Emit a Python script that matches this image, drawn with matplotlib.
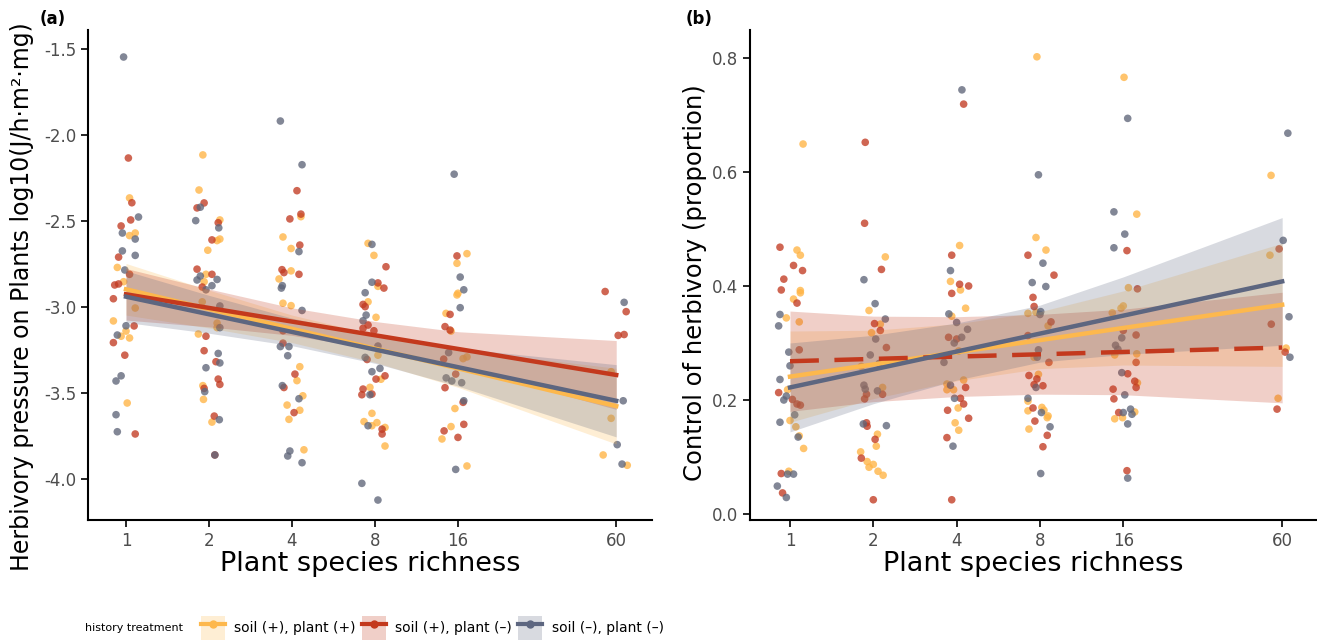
import matplotlib
matplotlib.use("Agg")
import matplotlib.pyplot as plt
import numpy as np
from matplotlib.lines import Line2D
from matplotlib.patches import Patch
from matplotlib.ticker import FormatStrFormatter

plt.rcParams['font.family'] = ['DejaVu Sans']
plt.rcParams['axes.unicode_minus'] = False

richness_ticks = [1, 2, 4, 8, 16, 60]
treatments = ["soil (+), plant (+)", "soil (+), plant (\u2013)", "soil (\u2013), plant (\u2013)"]

# ---- panel (a): herbivory pressure, jittered richness + value ----
a_yel_x = [1.03, 1.03, 1.08, 0.93, 0.98, 1.08, 0.90, 0.96, 1.03, 1.0, 1.01,
           1.90, 1.84, 2.19, 2.14, 2.19, 1.98, 1.95, 1.92, 1.89, 2.14, 2.14, 1.83, 1.90, 1.91, 2.05,
           4.31, 3.71, 3.97, 3.97, 3.59, 3.71, 3.97, 4.27, 4.17, 4.38, 3.84, 4.27, 3.90, 4.42,
           7.55, 7.93, 8.20, 7.55, 8.07, 8.20, 8.41, 7.67, 7.80, 7.30, 7.80, 8.13, 8.70, 8.70,
           17.25, 15.87, 16.0, 15.87, 14.48, 15.1, 16.7, 17.25, 15.6, 15.1, 14.0, 17.25,
           57.5, 57.5, 53.8, 65.8]
a_yel_y = [-2.366, -2.585, -2.57, -2.77, -2.853, -3.006, -3.081, -3.17, -3.18, -3.14, -3.558,
           -2.116, -2.32, -2.494, -2.614, -2.605, -2.67, -2.81, -2.853, -2.97, -3.094, -3.12, -3.157, -3.457, -3.537, -3.669,
           -2.475, -2.593, -2.66, -2.79, -2.837, -2.978, -2.992, -3.347, -3.428, -3.516, -3.57, -3.6, -3.653, -3.83,
           -2.63, -2.70, -2.88, -2.97, -3.06, -3.28, -3.42, -3.467, -3.618, -3.666, -3.69, -3.672, -3.70, -3.808,
           -2.69, -2.746, -2.92, -2.93, -3.037, -3.14, -3.30, -3.29, -3.59, -3.695, -3.767, -3.924,
           -3.376, -3.647, -3.86, -3.92]

a_red_x = [1.02, 1.05, 1.04, 0.96, 0.94, 1.03, 0.91, 0.94, 0.90, 1.07, 0.90, 0.99, 1.08,
           1.81, 1.92, 2.16, 2.05, 1.81, 2.05, 1.89, 1.95, 1.92, 2.12, 2.16, 2.19, 1.92, 2.09, 2.10,
           4.17, 4.31, 3.93, 4.27, 3.68, 3.74, 4.24, 3.71, 3.71, 4.10, 3.74, 4.07,
           8.77, 8.20, 8.62, 7.24, 7.37, 7.55, 7.24, 7.93, 7.49, 8.70, 8.07, 7.24, 7.17, 7.80, 8.49, 8.49,
           15.87, 14.98, 14.36, 14.98, 15.7, 14.36, 16.7, 16.8, 14.25, 16.0, 14.2,
           54.7, 65.2, 61.0, 64.1]
a_red_y = [-2.134, -2.394, -2.494, -2.529, -2.71, -2.81, -2.872, -2.866, -2.952, -3.11, -3.207, -3.28, -3.738,
           -2.424, -2.395, -2.51, -2.61, -2.78, -2.81, -2.884, -3.17, -3.254, -3.318, -3.419, -3.45, -3.473, -3.634, -3.86,
           -2.324, -2.46, -2.488, -2.64, -2.783, -2.80, -2.81, -3.138, -3.21, -3.39, -3.468, -3.614,
           -2.766, -2.86, -2.89, -2.985, -2.998, -3.105, -3.124, -3.138, -3.305, -3.40, -3.419, -3.477, -3.51, -3.506, -3.71, -3.738,
           -2.703, -3.043, -3.114, -3.134, -3.39, -3.469, -3.554, -3.682, -3.72, -3.758, -3.303,
           -2.91, -3.027, -3.165, -3.16]

a_gry_x = [0.98, 1.11, 0.97, 1.08, 0.97, 1.08, 0.99, 1.0, 0.93, 0.92, 0.96, 0.92, 0.93,
           1.86, 1.79, 2.17, 1.81, 1.86, 2.05, 2.14, 1.95, 2.19, 2.19, 2.16, 2.19, 1.95, 1.93, 2.18, 2.10,
           3.63, 4.35, 4.24, 3.69, 3.66, 4.35, 3.63, 3.90, 3.86, 3.69, 4.24, 3.86, 3.93, 4.35,
           7.80, 7.80, 7.37, 7.43, 7.24, 8.20, 7.37, 8.34, 7.80, 7.67, 7.55, 7.17, 8.20,
           15.5, 16.3, 16.8, 16.3, 14.8, 14.5, 15.2, 16.5, 16.8, 15.7,
           64.1, 63.6, 60.5, 63.0]
a_gry_y = [-1.547, -2.477, -2.570, -2.605, -2.674, -2.70, -2.785, -3.109, -3.163, -3.43, -3.40, -3.626, -3.725,
           -2.42, -2.498, -2.54, -2.843, -2.82, -2.876, -2.84, -2.90, -2.994, -3.12, -3.27, -3.325, -3.353, -3.492, -3.655, -3.86,
           -1.919, -2.173, -2.678, -2.876, -2.89, -3.02, -3.23, -3.23, -3.283, -3.457, -3.533, -3.866, -3.837, -3.905,
           -2.636, -2.856, -2.917, -3.047, -3.08, -3.227, -3.293, -3.357, -3.376, -3.51, -3.69, -4.025, -4.122,
           -2.228, -2.826, -2.90, -3.004, -3.265, -3.412, -3.43, -3.44, -3.545, -3.944,
           -2.973, -3.545, -3.80, -3.913]

# fitted lines (value at richness 1 and 60) and CI half-widths at the tick richness levels
a_fit = {"yel": (-2.897, -3.576), "red": (-2.926, -3.395), "gry": (-2.94, -3.545)}
a_ci = {"yel": [0.15, 0.11, 0.08, 0.08, 0.11, 0.22],
        "red": [0.15, 0.11, 0.08, 0.08, 0.10, 0.20],
        "gry": [0.15, 0.11, 0.08, 0.08, 0.11, 0.21]}

# ---- panel (b): control of herbivory ----
b_yel_x = [1.115, 1.06, 1.09, 1.09, 1.03, 1.09, 0.97, 1.08, 0.98, 1.0, 1.05, 1.08, 1.12, 0.99,
           2.21, 1.93, 2.12, 1.97, 1.81, 2.16, 2.07, 2.05, 1.80, 1.90, 1.93, 2.0, 2.08, 2.17,
           4.1, 3.8, 4.13, 4.31, 3.84, 4.07, 4.24, 3.69, 3.69, 3.90, 4.05, 3.95, 4.07,
           7.8, 7.74, 8.41, 7.24, 7.74, 8.56, 7.62, 7.9, 7.24, 8.13, 8.27, 7.24, 8.56, 8.5, 7.3,
           16.1, 17.9, 16.7, 14.6, 15.7, 16.0, 14.9, 17.9, 18.0, 17.6, 14.9, 15.9,
           54.7, 54.2, 62.0, 58.0]
b_yel_y = [0.649, 0.463, 0.454, 0.392, 0.377, 0.388, 0.344, 0.337, 0.218, 0.164, 0.153, 0.137, 0.115, 0.075,
           0.451, 0.357, 0.333, 0.318, 0.259, 0.222, 0.14, 0.119, 0.109, 0.092, 0.082, 0.087, 0.075, 0.068,
           0.471, 0.408, 0.393, 0.361, 0.347, 0.286, 0.235, 0.228, 0.218, 0.218, 0.186, 0.16, 0.147,
           0.802, 0.485, 0.463, 0.352, 0.354, 0.33, 0.275, 0.245, 0.198, 0.187, 0.182, 0.181, 0.172, 0.169, 0.149,
           0.766, 0.526, 0.397, 0.353, 0.361, 0.365, 0.279, 0.281, 0.23, 0.179, 0.167, 0.169,
           0.594, 0.454, 0.291, 0.203]

b_red_x = [0.92, 1.03, 1.11, 0.95, 0.93, 1.06, 1.08, 0.91, 1.02, 1.06, 1.09, 0.93, 0.94,
           1.87, 1.86, 2.14, 2.02, 2.12, 2.23, 2.16, 1.86, 1.89, 1.89, 1.90, 2.03, 1.81, 2.0,
           4.24, 3.84, 4.1, 4.42, 3.84, 3.74, 4.0, 4.31, 4.13, 4.24, 3.71, 4.42, 3.69, 3.84,
           7.24, 8.99, 7.55, 7.62, 8.77, 7.24, 8.62, 7.3, 7.8, 7.62, 8.2, 7.55, 7.67, 8.5, 8.2,
           16.5, 18.0, 16.0, 17.8, 17.8, 16.6, 17.6, 17.8, 14.7, 14.8, 15.4, 16.5,
           58.5, 54.8, 61.5, 57.5]
b_red_y = [0.468, 0.436, 0.427, 0.412, 0.393, 0.37, 0.288, 0.213, 0.201, 0.193, 0.191, 0.071, 0.037,
           0.652, 0.51, 0.429, 0.334, 0.322, 0.292, 0.21, 0.202, 0.21, 0.16, 0.154, 0.131, 0.098, 0.025,
           0.719, 0.454, 0.403, 0.40, 0.387, 0.31, 0.307, 0.222, 0.203, 0.193, 0.182, 0.168, 0.134, 0.025,
           0.454, 0.419, 0.38, 0.364, 0.337, 0.313, 0.266, 0.243, 0.237, 0.227, 0.225, 0.186, 0.163, 0.138, 0.118,
           0.462, 0.395, 0.322, 0.314, 0.266, 0.246, 0.233, 0.222, 0.219, 0.202, 0.178, 0.076,
           0.465, 0.333, 0.284, 0.184]

b_gry_x = [0.92, 0.91, 0.99, 1.0, 0.92, 0.95, 0.97, 1.04, 0.92, 1.07, 0.98, 1.03, 0.90, 0.97,
           1.85, 2.03, 2.21, 2.04, 1.95, 2.1, 1.85, 1.87, 2.07, 1.84, 2.23,
           4.18, 3.8, 3.75, 4.0, 4.38, 4.17, 3.92, 3.6, 3.8, 3.93, 3.88,
           7.9, 8.2, 7.5, 8.4, 8.05, 8.0, 7.9, 7.82, 7.74, 7.24, 8.1, 8.7, 8.05,
           16.6, 14.8, 16.2, 14.8, 15.8, 15.0, 15.3, 15.8, 16.2, 17.0, 16.0, 17.2, 16.6, 16.6,
           62.9, 60.5, 63.5, 64.0]
b_gry_y = [0.35, 0.33, 0.284, 0.26, 0.236, 0.20, 0.207, 0.174, 0.161, 0.135, 0.07, 0.07, 0.049, 0.029,
           0.411, 0.369, 0.342, 0.307, 0.279, 0.264, 0.226, 0.219, 0.216, 0.158, 0.155,
           0.744, 0.427, 0.351, 0.336, 0.324, 0.31, 0.30, 0.266, 0.226, 0.203, 0.119,
           0.595, 0.44, 0.406, 0.399, 0.355, 0.35, 0.288, 0.275, 0.222, 0.203, 0.178, 0.153, 0.071,
           0.694, 0.53, 0.491, 0.467, 0.309, 0.296, 0.289, 0.248, 0.209, 0.184, 0.178, 0.175, 0.158, 0.063,
           0.668, 0.48, 0.346, 0.275]

b_fit = {"yel": (0.241, 0.367), "red": (0.268, 0.292), "gry": (0.222, 0.408)}
b_ci = {"yel": [0.08, 0.06, 0.05, 0.05, 0.065, 0.108],
        "red": [0.088, 0.075, 0.07, 0.07, 0.075, 0.097],
        "gry": [0.078, 0.06, 0.05, 0.05, 0.068, 0.112]}

point_col = {"yel": "#FFB444", "red": "#C23B22", "gry": "#5F6579"}
line_col = {"yel": "#FDB84D", "red": "#C3391D", "gry": "#5D6680"}
order = ["yel", "red", "gry"]


def draw_panel(ax, pts, fit, ci, dashed_red=False):
    for key in order:
        x, y = pts[key]
        ax.scatter(x, y, s=30, color=point_col[key], alpha=0.78, edgecolors="none", zorder=2)
    r = np.array(richness_ticks, dtype=float)
    frac = np.log2(r) / np.log2(60)
    for key in order:
        y1, y60 = fit[key]
        mid = y1 + (y60 - y1) * frac
        hw = np.array(ci[key])
        ax.fill_between(r, mid - hw, mid + hw, color=line_col[key], alpha=0.24,
                        linewidth=0, zorder=3)
    for key in order:
        y1, y60 = fit[key]
        mid = y1 + (y60 - y1) * frac
        if dashed_red and key == "red":
            ax.plot(r, mid, color=line_col[key], lw=3.2, dashes=(6.5, 3.5), zorder=4,
                    solid_capstyle="butt")
        else:
            ax.plot(r, mid, color=line_col[key], lw=3.2, zorder=4)
    ax.set_xscale("log", base=2)
    ax.set_xticks(richness_ticks)
    ax.set_xticklabels([str(v) for v in richness_ticks])
    ax.minorticks_off()
    for side in ["top", "right"]:
        ax.spines[side].set_visible(False)
    for side in ["left", "bottom"]:
        ax.spines[side].set_linewidth(1.5)
    ax.tick_params(axis="both", labelsize=12, length=5, width=1.2, colors="black",
                   labelcolor="#4D4D4D")
    ax.set_xlabel("Plant species richness", fontsize=19.5, labelpad=1)


fig = plt.figure(figsize=(13.17, 6.4), dpi=100)
ax1 = fig.add_axes([88 / 1317, 120 / 640, 564 / 1317, 490 / 640])
ax2 = fig.add_axes([750 / 1317, 120 / 640, 566 / 1317, 490 / 640])

draw_panel(ax1, {"yel": (a_yel_x, a_yel_y), "red": (a_red_x, a_red_y), "gry": (a_gry_x, a_gry_y)},
           a_fit, a_ci)
ax1.set_xlim(0.728, 80.9)
ax1.set_ylim(-4.238, -1.39)
ax1.set_yticks([-4.0, -3.5, -3.0, -2.5, -2.0, -1.5])
ax1.yaxis.set_major_formatter(FormatStrFormatter("%.1f"))
ax1.set_ylabel("Herbivory pressure on Plants log10(J/h\u00b7m\u00b2\u00b7mg)", fontsize=17)
ax1.yaxis.set_label_coords(-0.096, 0.455)

draw_panel(ax2, {"yel": (b_yel_x, b_yel_y), "red": (b_red_x, b_red_y), "gry": (b_gry_x, b_gry_y)},
           b_fit, b_ci, dashed_red=True)
ax2.set_xlim(0.717, 79.5)
ax2.set_ylim(-0.0105, 0.849)
ax2.set_yticks([0.0, 0.2, 0.4, 0.6, 0.8])
ax2.yaxis.set_major_formatter(FormatStrFormatter("%.1f"))
ax2.set_ylabel("Control of herbivory (proportion)", fontsize=17.5)
ax2.yaxis.set_label_coords(-0.076, 0.484)

fig.text(40 / 1317, 1 - 19 / 640, "(a)", fontsize=12, fontweight="bold", va="center")
fig.text(686 / 1317, 1 - 19 / 640, "(b)", fontsize=12, fontweight="bold", va="center")

# legend
handles = []
for key in order:
    handles.append((Patch(facecolor=line_col[key], alpha=0.24, edgecolor="none"),
                    Line2D([], [], color=line_col[key], lw=3, marker="o", markersize=5)))
fig.text(85 / 1317, 12 / 640, "history treatment", fontsize=8, va="center")
fig.legend(handles, treatments, loc="center left", bbox_to_anchor=(194 / 1317, 12 / 640),
           ncol=3, frameon=False, fontsize=10, handlelength=1.7, handleheight=2.2,
           handletextpad=0.7, columnspacing=0.45, borderpad=0)

fig.savefig("out.png", dpi=100)
